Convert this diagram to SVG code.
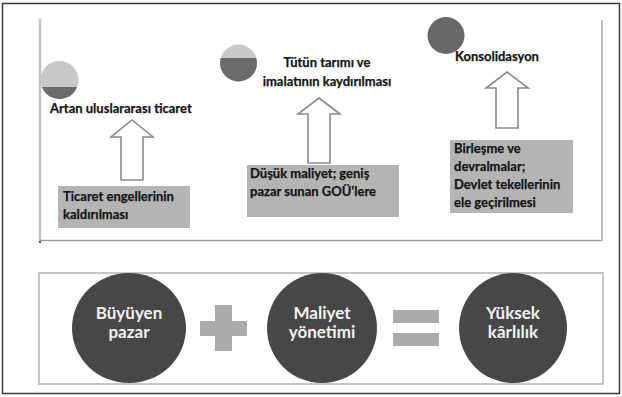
<svg xmlns="http://www.w3.org/2000/svg" width="622" height="397" viewBox="0 0 622 397">
<style>
.t{font-family:Lato,"Open Sans","Liberation Sans",sans-serif;font-weight:bold;font-size:13px;fill:#151515;stroke:#151515;stroke-width:0.25}
.w{font-family:Lato,"Open Sans","Liberation Sans",sans-serif;font-weight:bold;font-size:17px;fill:#f2f2f2;text-anchor:middle}
.box{fill:#b4b4b4}
.arr{fill:#ffffff;stroke:#8a8a8a;stroke-width:1.6;stroke-linejoin:miter}
.big{fill:#474747}
.op{fill:#ababab}
</style>
<rect x="0" y="0" width="622" height="397" fill="#ffffff"/>
<rect x="2.5" y="3.5" width="617" height="390" fill="none" stroke="#3a3a3a" stroke-width="1.5"/>
<g id="top-panel">
<line x1="40" y1="19" x2="40" y2="243" stroke="#c4c4c4" stroke-width="2.5"/>
<line x1="40" y1="241" x2="40" y2="243" stroke="#555" stroke-width="2"/>
<line x1="40" y1="240.5" x2="602" y2="240.5" stroke="#9e9e9e" stroke-width="1.5"/>
<line x1="602" y1="20" x2="602" y2="241" stroke="#bdbdbd" stroke-width="2"/>
</g>
<g id="node-artan">
<clipPath id="c1"><circle cx="59.5" cy="80" r="19"/></clipPath>
<g clip-path="url(#c1)"><rect x="40" y="60" width="40" height="40" fill="#c8c8c8"/><rect x="40" y="87" width="40" height="14" fill="#6b6b6b"/></g>
<text class="t" x="50" y="113">Artan uluslararası ticaret</text>
</g>
<g id="node-ticaret">
<rect class="box" x="58" y="186" width="132" height="42"/>
<text class="t" x="63" y="201">Ticaret engellerinin</text>
<text class="t" x="63" y="219">kaldırılması</text>
</g>
<g id="node-tutun">
<clipPath id="c2"><circle cx="238.5" cy="63" r="18.5"/></clipPath>
<g clip-path="url(#c2)"><rect x="219" y="44" width="40" height="40" fill="#c8c8c8"/><rect x="219" y="58" width="40" height="30" fill="#6b6b6b"/></g>
<text class="t" x="327" y="67" text-anchor="middle">Tütün tarımı ve</text>
<text class="t" x="327" y="86" text-anchor="middle">imalatının kaydırılması</text>
</g>
<g id="node-dusuk">
<rect class="box" x="247" y="165" width="152" height="52"/>
<text class="t" x="250" y="178">Düşük maliyet; geniş</text>
<text class="t" x="250" y="196">pazar sunan GOÜ’lere</text>
</g>
<g id="node-konsolidasyon">
<circle cx="446" cy="35.5" r="18.5" fill="#686868"/>
<text class="t" x="455" y="61">Konsolidasyon</text>
</g>
<g id="node-birlesme">
<rect class="box" x="450" y="140" width="123" height="73"/>
<text class="t" x="454" y="153">Birleşme ve</text>
<text class="t" x="454" y="171">devralmalar;</text>
<text class="t" x="454" y="189">Devlet tekellerinin</text>
<text class="t" x="454" y="207">ele geçirilmesi</text>
</g>
<g id="connectors">
<path class="arr" d="M132,120 L153,137 L143,137 L143,180 L121,180 L121,137 L111,137 Z"/>
<path class="arr" d="M319,98 L340,114 L330,114 L330,163 L308,163 L308,114 L298,114 Z"/>
<path class="arr" d="M507,72 L528,88 L518,88 L518,128 L496,128 L496,88 L486,88 Z"/>
</g>
<g id="bottom-panel">
<rect x="39" y="273" width="564" height="111" fill="none" stroke="#c6c6c6" stroke-width="2"/>
</g>
<g id="node-buyuyen">
<ellipse class="big" cx="129" cy="328" rx="57" ry="55"/>
<text class="w" x="129" y="319">Büyüyen</text>
<text class="w" x="129" y="338">pazar</text>
</g>
<g id="op-plus">
<rect class="op" x="200" y="321" width="47" height="15"/>
<rect class="op" x="215" y="305" width="17" height="46"/>
</g>
<g id="node-maliyet">
<ellipse class="big" cx="322" cy="328" rx="55" ry="55"/>
<text class="w" x="322" y="319">Maliyet</text>
<text class="w" x="322" y="338">yönetimi</text>
</g>
<g id="op-equals">
<rect class="op" x="393" y="310" width="46" height="13"/>
<rect class="op" x="393" y="333" width="46" height="13"/>
</g>
<g id="node-yuksek">
<ellipse class="big" cx="513" cy="328" rx="54" ry="55"/>
<text class="w" x="513" y="319">Yüksek</text>
<text class="w" x="513" y="338">kârlılık</text>
</g>
</svg>
